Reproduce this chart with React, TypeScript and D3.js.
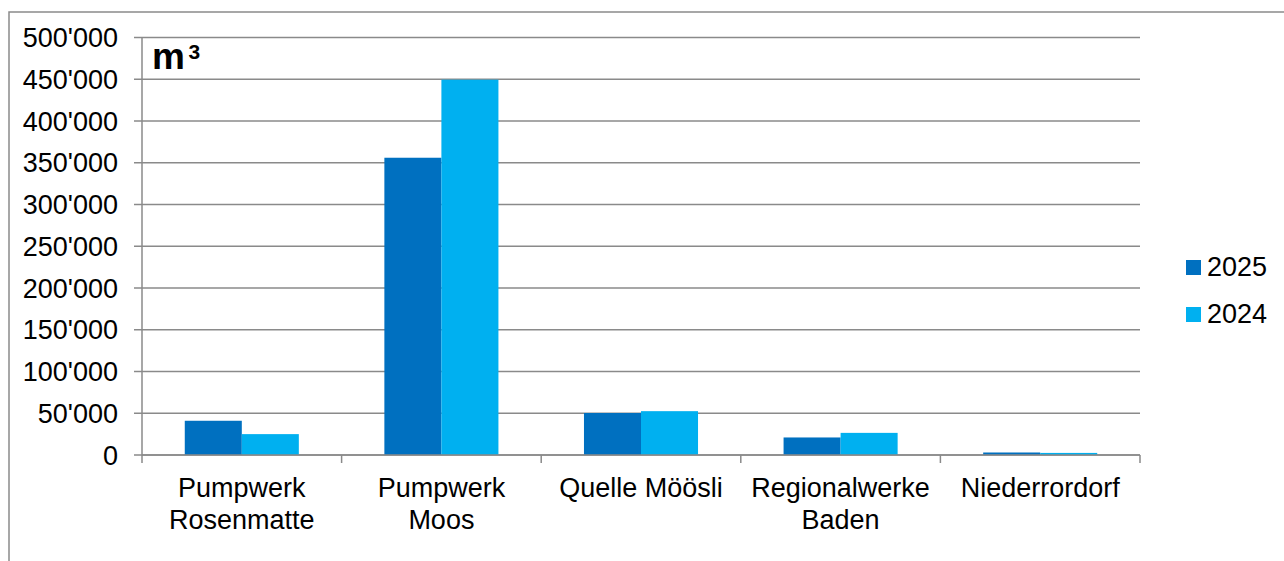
import React from "react";
import * as d3 from "d3";

const categories: string[][] = [
  ["Pumpwerk", "Rosenmatte"],
  ["Pumpwerk", "Moos"],
  ["Quelle Möösli"],
  ["Regionalwerke", "Baden"],
  ["Niederrordorf"],
];
const seriesNames = ["2025", "2024"];
const values2025 = [41000, 356000, 50300, 21000, 3000];
const values2024 = [25000, 449500, 52500, 26500, 2500];
const yTicks = [0, 50000, 100000, 150000, 200000, 250000, 300000, 350000, 400000, 450000, 500000];
const colors = ["#0070C0", "#00B0F0"];

const W = 1284;
const H = 561;
const left = 142;
const right = 1140;
const top = 37.5;
const bottom = 455;
const gridColor = "#8a8a8a";
const font = "'Liberation Sans', Arial, sans-serif";

const fmt = (v: number) => {
  const s = d3.format(",")(v);
  return s.replace(/,/g, "'");
};

export default function App() {
  const x = d3.scaleBand<number>().domain(d3.range(categories.length)).range([left, right]).paddingInner(0).paddingOuter(0);
  const y = d3.scaleLinear().domain([0, 500000]).range([bottom, top]);
  const inner = d3.scaleBand<number>().domain([0, 1]).range([0, x.bandwidth()]).paddingOuter(0.75).paddingInner(0);
  const series = [values2025, values2024];

  return (
    <svg width={W} height={H} style={{ position: "absolute", left: 0, top: 0 }}>
      <rect x={0} y={0} width={W} height={H} fill="#fff" />
      <rect x={9} y={12} width={W + 10} height={H + 10} fill="none" stroke={gridColor} strokeWidth={1.5} />
      {yTicks.map((t) => (
        <g key={t}>
          <line x1={134} x2={right} y1={y(t)} y2={y(t)} stroke={gridColor} strokeWidth={1.5} />
          <text x={118} y={y(t) + 9.5} textAnchor="end" fontFamily={font} fontSize={27} fill="#000">
            {fmt(t)}
          </text>
        </g>
      ))}
      <line x1={left} x2={left} y1={top} y2={bottom} stroke={gridColor} strokeWidth={1.5} />
      {series.map((vals, si) =>
        vals.map((v, ci) => (
          <rect
            key={`${si}-${ci}`}
            x={(x(ci) as number) + (inner(si) as number)}
            y={y(v)}
            width={inner.bandwidth()}
            height={bottom - y(v)}
            fill={colors[si]}
          />
        ))
      )}
      <line x1={left} x2={right} y1={bottom} y2={bottom} stroke={gridColor} strokeWidth={1.5} />
      {d3.range(categories.length + 1).map((i) => {
        const xx = left + i * x.bandwidth();
        return <line key={i} x1={xx} x2={xx} y1={bottom} y2={463} stroke={gridColor} strokeWidth={1.5} />;
      })}
      {categories.map((lines, ci) => (
        <text key={ci} textAnchor="middle" fontFamily={font} fontSize={27} fill="#000">
          {lines.map((l, li) => (
            <tspan key={li} x={(x(ci) as number) + x.bandwidth() / 2} y={496.5 + li * 32}>
              {l}
            </tspan>
          ))}
        </text>
      ))}
      <text x={152} y={68.5} fontFamily={font} fontSize={37} fontWeight="bold" fill="#000">
        m
      </text>
      <text x={188.5} y={58.5} fontFamily={font} fontSize={21} fontWeight="bold" fill="#000">
        3
      </text>
      {seriesNames.map((n, i) => (
        <g key={n}>
          <rect x={1186} y={260 + i * 47} width={15} height={15} fill={colors[i]} />
          <text x={1207} y={276 + i * 47} fontFamily={font} fontSize={27} fill="#000">
            {n}
          </text>
        </g>
      ))}
    </svg>
  );
}
